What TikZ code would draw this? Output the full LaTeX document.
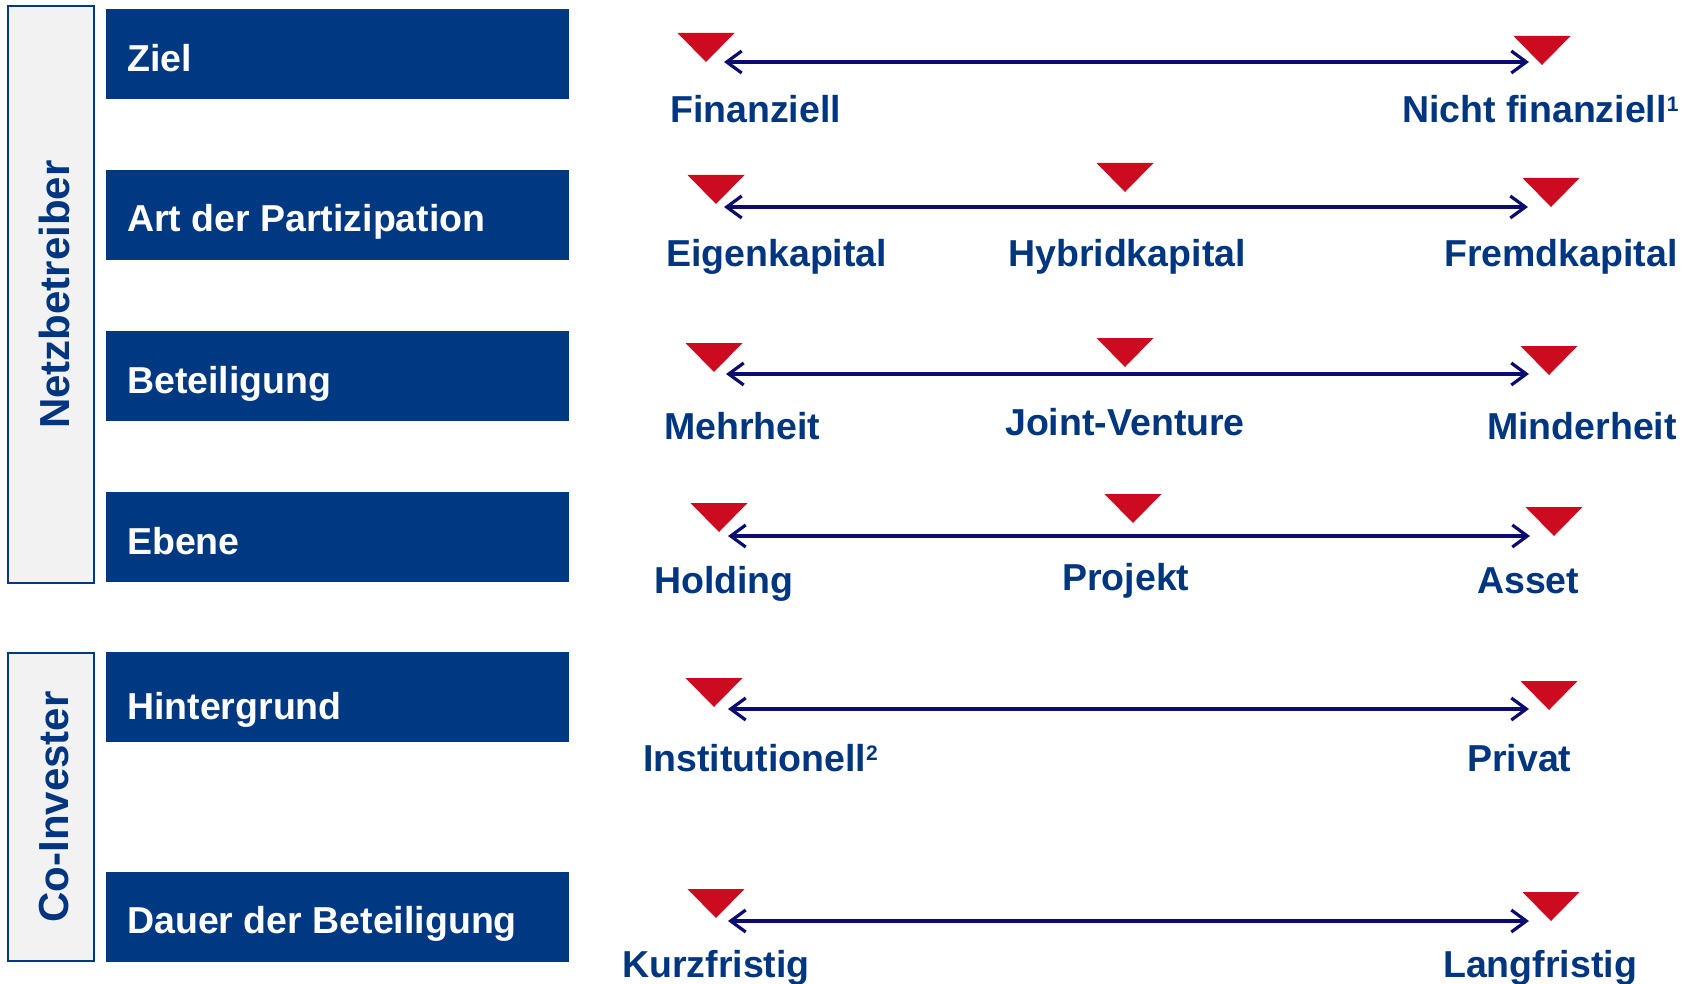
\documentclass[tikz,border=0pt]{standalone}
\usepackage{fontspec}
\setmainfont{Liberation Sans}
\usetikzlibrary{arrows.meta}

\definecolor{boxblue}{RGB}{0,56,130}
\definecolor{labelblue}{RGB}{0,54,128}
\definecolor{navyline}{RGB}{12,12,110}
\definecolor{markred}{RGB}{204,10,32}
\definecolor{panelgrey}{RGB}{242,242,242}

% red downward marker: centre x, top y
\newcommand\pointer[2]{\fill[markred] ({#1-28.5},#2) -- ({#1+28.5},#2) -- (#1,{#2+29}) -- cycle;}
% footnote mark raised to cap height
\newcommand\fnmark[1]{\raisebox{11pt}{\fontsize{21}{22}\selectfont #1}}

\begin{document}
\begin{tikzpicture}[x=1pt,y=-1pt,
  panel/.style={draw=boxblue, line width=2.5pt, fill=panelgrey, inner sep=0pt, outer sep=0pt, anchor=north west},
  paneltext/.style={rotate=90, text=labelblue, font=\fontsize{42}{46}\selectfont\bfseries, inner sep=0pt},
  catbox/.style={fill=boxblue, draw=none, inner sep=0pt, outer sep=0pt, anchor=north west,
                 minimum width=463pt, minimum height=90pt},
  cattext/.style={text=white, font=\fontsize{37.5}{42}\selectfont\bfseries, inner sep=0pt, anchor=base west},
  endlabel/.style={text=labelblue, font=\fontsize{37.5}{42}\selectfont\bfseries, inner sep=0pt, anchor=base west},
  scale line/.style={draw=navyline, line width=3.2pt,
     {Straight Barb[length=15pt,width=22pt]}-{Straight Barb[length=15pt,width=22pt]}}]

\useasboundingbox (0,0) rectangle (1694,984);

% group panels
\node[panel, minimum width=86pt, minimum height=577pt] (netz) at (8,6) {};
\node[paneltext] (netz-t) at (54.5,294.5) {Netzbetreiber};
\node[panel, minimum width=86pt, minimum height=308pt] (coinv) at (8,653) {};
\node[paneltext] (coinv-t) at (54.5,807) {Co-Invester};

% category boxes
\node[catbox] (ziel) at (106,9) {};
\node[cattext] (ziel-t) at (127,72) {Ziel};
\node[catbox] (art) at (106,170) {};
\node[cattext] (art-t) at (127,232) {Art der Partizipation};
\node[catbox] (bet) at (106,331) {};
\node[cattext] (bet-t) at (127,393) {Beteiligung};
\node[catbox] (ebene) at (106,492) {};
\node[cattext] (ebene-t) at (127,554) {Ebene};
\node[catbox] (hint) at (106,652) {};
\node[cattext] (hint-t) at (127,719) {Hintergrund};
\node[catbox] (dauer) at (106,872) {};
\node[cattext] (dauer-t) at (127,933) {Dauer der Beteiligung};

% scales
\coordinate (s1l) at (724,62);  \coordinate (s1r) at (1529,62);
\coordinate (s2l) at (724,207); \coordinate (s2r) at (1528,207);
\coordinate (s3l) at (726,374); \coordinate (s3r) at (1529,374);
\coordinate (s4l) at (728,536); \coordinate (s4r) at (1530,536);
\coordinate (s5l) at (728,709); \coordinate (s5r) at (1529,709);
\coordinate (s6l) at (728,921); \coordinate (s6r) at (1529,921);
\draw[scale line] (s1l) -- (s1r);
\draw[scale line] (s2l) -- (s2r);
\draw[scale line] (s3l) -- (s3r);
\draw[scale line] (s4l) -- (s4r);
\draw[scale line] (s5l) -- (s5r);
\draw[scale line] (s6l) -- (s6r);

% markers
\pointer{706}{33}  \pointer{1542}{36}
\pointer{716}{175} \pointer{1125}{163} \pointer{1551}{178}
\pointer{714}{343} \pointer{1125}{338} \pointer{1549}{346}
\pointer{719}{503} \pointer{1133}{494} \pointer{1554}{507}
\pointer{714}{678} \pointer{1549}{681}
\pointer{716}{889} \pointer{1551}{892}

% end labels
\node[endlabel] (l1a) at (670,123) {Finanziell};
\node[endlabel] (l1b) at (1402,123) {Nicht finanziell\fnmark{1}};
\node[endlabel] (l2a) at (666,267) {Eigenkapital};
\node[endlabel] (l2b) at (1008,267) {Hybridkapital};
\node[endlabel] (l2c) at (1444,267) {Fremdkapital};
\node[endlabel] (l3a) at (664,439) {Mehrheit};
\node[endlabel] (l3b) at (1005,435) {Joint-Venture};
\node[endlabel] (l3c) at (1487,439) {Minderheit};
\node[endlabel] (l4a) at (654,593) {Holding};
\node[endlabel] (l4b) at (1062,590) {Projekt};
\node[endlabel] (l4c) at (1477,593) {Asset};
\node[endlabel] (l5a) at (643,771) {Institutionell\fnmark{2}};
\node[endlabel] (l5b) at (1467,771) {Privat};
\node[endlabel] (l6a) at (622,977) {Kurzfristig};
\node[endlabel] (l6b) at (1443,977) {Langfristig};

\end{tikzpicture}
\end{document}
